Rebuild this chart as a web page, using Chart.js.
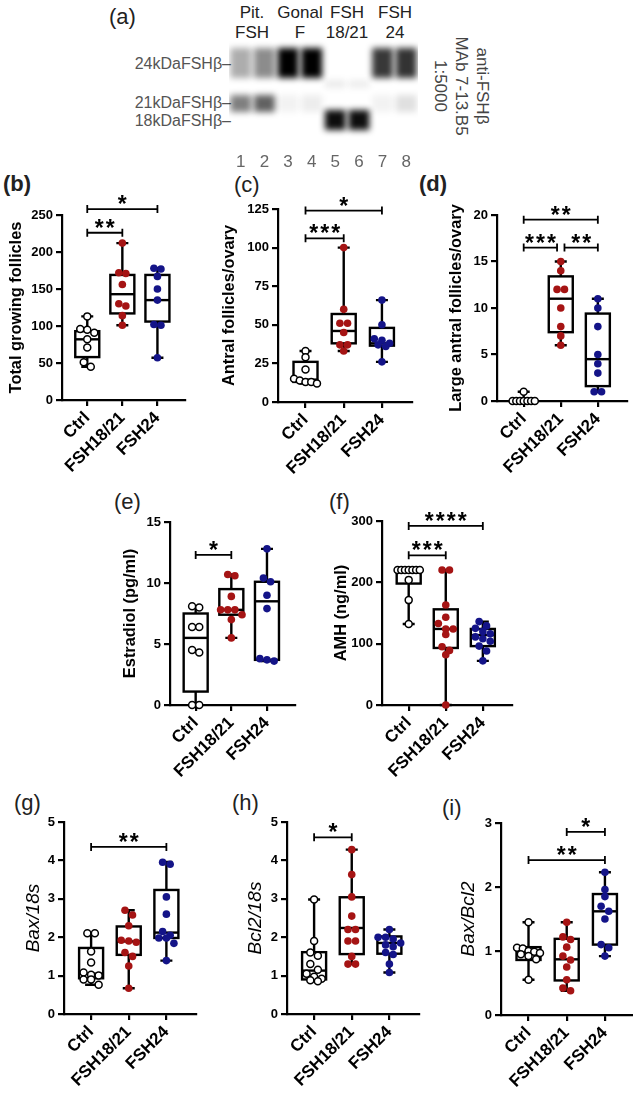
<!DOCTYPE html>
<html lang="en">
<head>
<meta charset="utf-8">
<title>FSH glycoforms and ovarian follicles</title>
<script src="https://cdn.jsdelivr.net/npm/chart.js"></script>
<style>
    body { margin: 0; background: #fff; font-family: "Liberation Sans", Arial, sans-serif; }
    #page { position: relative; width: 633px; height: 1101px; overflow: hidden; }
    #page canvas { position: absolute; }
    .lbl { position: absolute; white-space: nowrap; line-height: 1; }
    .panel { position: absolute; font-size: 22px; color: #222; line-height: 1; }
    .grey { color: #555; font-size: 16px; }
    .lane { color: #222; font-size: 17px; text-align: center; transform: translateX(-50%); }
</style>
</head>
<body>
<div id="page">
    <div class="panel" style="left:109px;top:6px">(a)</div>
    <div class="lbl lane" style="left:252px;top:4px">Pit.</div>
    <div class="lbl lane" style="left:252px;top:24px">FSH</div>
    <div class="lbl lane" style="left:300px;top:4px">Gonal</div>
    <div class="lbl lane" style="left:300px;top:24px">F</div>
    <div class="lbl lane" style="left:347px;top:4px">FSH</div>
    <div class="lbl lane" style="left:347px;top:24px">18/21</div>
    <div class="lbl lane" style="left:395px;top:4px">FSH</div>
    <div class="lbl lane" style="left:395px;top:24px">24</div>
    <div class="lbl grey" style="right:402px;top:56px">24kDaFSHβ–</div>
    <div class="lbl grey" style="right:402px;top:95px">21kDaFSHβ–</div>
    <div class="lbl grey" style="right:402px;top:113px">18kDaFSHβ–</div>
    <div class="lbl grey" style="left:461px;top:86px;text-align:center;line-height:21px;font-size:17px;color:#444;transform:translate(-50%,-50%) rotate(90deg)">anti-FSHβ<br>MAb 7-13.B5<br>1:5000</div>

    <div class="panel" style="left:3px;top:173px;font-weight:bold">(b)</div>
    <div class="panel" style="left:234px;top:174px">(c)</div>
    <div class="panel" style="left:419px;top:173px;font-weight:bold">(d)</div>
    <div class="panel" style="left:114px;top:491px">(e)</div>
    <div class="panel" style="left:329px;top:491px">(f)</div>
    <div class="panel" style="left:14px;top:792px">(g)</div>
    <div class="panel" style="left:232px;top:792px">(h)</div>
    <div class="panel" style="left:442px;top:797px">(i)</div>
</div>
<script>
// ---- data ----
const groups = ['Ctrl', 'FSH18/21', 'FSH24'];

// western blot (a): band intensity per lane, band span in migration units
const laneNums = ['1', '2', '3', '4', '5', '6', '7', '8'];
const band24 = [0.32, 0.45, 1, 1, 0, 0, 0.78, 0.8];
const band22 = [0, 0, 0, 0, 0.08, 0.07, 0, 0];
const band21 = [0.5, 0.62, 0.05, 0.07, 0, 0, 0.05, 0.12];
const band18 = [0, 0, 0, 0, 0.95, 0.95, 0, 0];
const bandSpans = [[8, 38], [40, 48], [55, 72], [70, 90]];

// (b) total growing follicles
const bTicks = [0, 50, 100, 150, 200, 250];
const bCtrl = [113, 96, 95, 91, 82, 71, 51, 45];
const bF1821 = [212, 172, 171, 156, 130, 127, 114, 101];
const bF24 = [178, 177, 167, 150, 135, 102, 101, 57];
const bBox = [[45, 58, 82, 93, 113], [101, 117, 143, 169, 212], [57, 106, 135, 169, 178]];
const bSig = [[0, 1, 226, '**'], [0, 2, 258, '*']];

// (c) antral follicles/ovary
const cTicks = [0, 25, 50, 75, 100, 125];
const cCtrl = [33, 29, 21, 15, 14, 13, 13, 12];
const cF1821 = [100, 60, 51, 51, 45, 37, 37, 33];
const cF24 = [66, 50, 41, 40, 38, 37, 36, 26];
const cBox = [[12, 13, 14.5, 26, 33], [33, 38, 46, 57, 100], [26, 36.5, 38, 48, 66]];
const cSig = [[0, 1, 106, '***'], [0, 2, 124, '*']];

// (d) large antral follicles/ovary
const dTicks = [0, 5, 10, 15, 20];
const dCtrl = [1, 0, 0, 0, 0, 0, 0, 0];
const dF1821 = [15, 14, 12, 12, 10, 8, 7, 6];
const dF24 = [11, 10, 8, 5, 4, 3, 1, 1];
const dBox = [[0, 0, 0, 0, 1], [6, 7.4, 11, 13.4, 15], [1, 1.6, 4.5, 9.4, 11]];
const dSig = [[0, 2, 19.5, '**'], [0, 0.9, 16.5, '***'], [1.1, 2, 16.5, '**']];

// (e) estradiol
const eTicks = [0, 5, 10, 15];
const eCtrl = [8.1, 8.0, 6.4, 6.4, 4.5, 4.3, 0, 0];
const eF1821 = [10.7, 10.6, 8.9, 7.8, 7.8, 7.8, 7.4, 7.0, 5.5];
const eF24 = [12.8, 10.4, 10.1, 9.0, 7.9, 3.8, 3.7, 3.6];
const eBox = [[0, 1.1, 5.5, 7.5, 8.1], [5.5, 7.4, 7.8, 9.5, 10.7], [3.6, 3.7, 8.5, 10.1, 12.8]];
const eSig = [[0, 1, 12.3, '*']];

// (f) AMH
const fTicks = [0, 100, 200, 300];
const fCtrl = [220, 220, 220, 220, 220, 220, 220, 204, 171, 132];
const fF1821 = [220, 220, 163, 143, 133, 124, 124, 115, 95, 89, 82, 0];
const fF24 = [136, 129, 125, 120, 116, 111, 108, 104, 96, 88, 72];
const fBox = [[132, 198, 220, 220, 220], [0, 93, 124, 156, 220], [72, 96, 114, 124, 136]];
const fSig = [[0, 2, 292, '****'], [0, 1, 244, '***']];

// (g) Bax/18s
const gTicks = [0, 1, 2, 3, 4, 5];
const gCtrl = [2.1, 2.1, 1.63, 1.34, 1.08, 1.02, 1.0, 0.9, 0.9, 0.76];
const gF1821 = [2.7, 2.58, 2.3, 1.92, 1.9, 1.87, 1.6, 1.5, 1.25, 0.67];
const gF24 = [3.95, 3.9, 3.05, 2.6, 2.15, 2.05, 1.98, 1.98, 1.84, 1.39];
const gBox = [[0.76, 0.93, 1.05, 1.72, 2.1], [0.67, 1.54, 1.89, 2.28, 2.7], [1.39, 1.98, 2.12, 3.23, 3.96]];
const gSig = [[0, 2, 4.35, '**']];

// (h) Bcl2/18s
const hTicks = [0, 1, 2, 3, 4, 5];
const hCtrl = [2.98, 1.9, 1.6, 1.52, 1.3, 1.15, 1.05, 0.97, 0.92, 0.88, 0.85];
const hF1821 = [4.28, 3.63, 3.05, 2.55, 2.2, 2.2, 1.9, 1.9, 1.5, 1.3, 1.3];
const hF24 = [2.2, 2.0, 2.0, 1.95, 1.85, 1.8, 1.75, 1.6, 1.55, 1.3, 1.08];
const hBox = [[0.85, 0.9, 1.13, 1.61, 2.98], [1.3, 1.56, 2.24, 3.04, 4.28], [1.08, 1.57, 1.85, 2.02, 2.2]];
const hSig = [[0, 1, 4.6, '*']];

// (i) Bax/Bcl2
const iTicks = [0, 1, 2, 3];
const iCtrl = [1.45, 1.05, 1.04, 1.0, 0.99, 0.97, 0.95, 0.92, 0.87, 0.55];
const iF1821 = [1.45, 1.22, 1.18, 1.06, 0.92, 0.86, 0.75, 0.55, 0.42, 0.38];
const iF24 = [2.23, 1.96, 1.85, 1.7, 1.62, 1.5, 1.1, 1.05, 0.92];
const iBox = [[0.55, 0.86, 0.98, 1.06, 1.45], [0.38, 0.54, 0.87, 1.19, 1.45], [0.92, 1.1, 1.62, 1.89, 2.23]];
const iSig = [[1, 2, 2.86, '*'], [0, 2, 2.42, '**']];

// ---- styling / layout ----
const FONT = "'Liberation Sans', Arial, sans-serif";
const groupFill = ['#ffffff', '#a51414', '#141488'];
const groupLine = ['#000000', '#a51414', '#141488'];
const X_MIN = -0.72, X_MAX = 2.8;
const PT = 50, PR = 4, XH = 85;

Chart.defaults.font.family = FONT;
Chart.defaults.color = '#000';

const panels = [
    { axisX: 62, top: 215, bottom: 400, yw: 60, step: 35.5, ticks: bTicks, title: 'Total growing follicles', pts: [bCtrl, bF1821, bF24], box: bBox, sig: bSig },
    { axisX: 278, top: 209, bottom: 402, yw: 63, step: 38.5, ticks: cTicks, title: 'Antral follicles/ovary', pts: [cCtrl, cF1821, cF24], box: cBox, sig: cSig },
    { axisX: 497, top: 215, bottom: 401, yw: 55, step: 37.5, ticks: dTicks, title: 'Large antral follicles/ovary', pts: [dCtrl, dF1821, dF24], box: dBox, sig: dSig },
    { axisX: 170, top: 522, bottom: 705, yw: 54, step: 36, ticks: eTicks, title: 'Estradiol (pg/ml)', pts: [eCtrl, eF1821, eF24], box: eBox, sig: eSig },
    { axisX: 382, top: 521, bottom: 705, yw: 55, step: 37.5, ticks: fTicks, title: 'AMH (ng/ml)', pts: [fCtrl, fF1821, fF24], box: fBox, sig: fSig },
    { axisX: 64, top: 822, bottom: 1014, yw: 47, step: 38, ticks: gTicks, title: 'Bax/18s', italic: true, pts: [gCtrl, gF1821, gF24], box: gBox, sig: gSig },
    { axisX: 287, top: 822, bottom: 1014, yw: 48, step: 38, ticks: hTicks, title: 'Bcl2/18s', italic: true, pts: [hCtrl, hF1821, hF24], box: hBox, sig: hSig },
    { axisX: 501, top: 823, bottom: 1015, yw: 49, step: 38.5, ticks: iTicks, title: 'Bax/Bcl2', italic: true, pts: [iCtrl, iF1821, iF24], box: iBox, sig: iSig }
];

const page = document.getElementById('page');

// lay the dots of one group out in rows, like a scatter dot plot
function spread(vals, g, pyu) {
    const rows = [];
    vals.slice().sort((a, b) => b - a).forEach(v => {
        const row = rows[rows.length - 1];
        if (row && (row[0] - v) * pyu < 6) row.push(v);
        else rows.push([v]);
    });
    const out = [];
    rows.forEach(row => {
        const step = Math.min(0.2, 0.6 / Math.max(row.length - 1, 1));
        row.forEach((v, i) => out.push({ x: g + (i - (row.length - 1) / 2) * step, y: v }));
    });
    return out;
}

function boxPlugin(p) {
    return {
        id: 'boxes',
        beforeDatasetsDraw(chart) {
            const { ctx, scales: { x, y } } = chart;
            ctx.save();
            ctx.strokeStyle = '#000';
            ctx.lineWidth = 2.4;
            p.box.forEach((b, g) => {
                const cx = x.getPixelForValue(g);
                const [mn, q1, md, q3, mx] = b.map(v => y.getPixelForValue(v));
                ctx.beginPath();
                ctx.moveTo(cx, mx); ctx.lineTo(cx, q3);
                ctx.moveTo(cx, q1); ctx.lineTo(cx, mn);
                ctx.moveTo(cx - 6, mx); ctx.lineTo(cx + 6, mx);
                ctx.moveTo(cx - 6, mn); ctx.lineTo(cx + 6, mn);
                ctx.stroke();
                ctx.strokeRect(cx - 12, q3, 24, q1 - q3);
                ctx.beginPath();
                ctx.moveTo(cx - 12, md); ctx.lineTo(cx + 12, md);
                ctx.stroke();
            });
            ctx.restore();
        },
        afterDatasetsDraw(chart) {
            const { ctx, scales: { x, y } } = chart;
            ctx.save();
            ctx.strokeStyle = '#000';
            ctx.fillStyle = '#000';
            ctx.lineWidth = 1.8;
            ctx.font = 'bold 23px ' + FONT;
            ctx.textAlign = 'center';
            ctx.textBaseline = 'alphabetic';
            p.sig.forEach(([a, b, v, stars]) => {
                const x1 = x.getPixelForValue(a), x2 = x.getPixelForValue(b), yy = y.getPixelForValue(v);
                ctx.beginPath();
                ctx.moveTo(x1, yy); ctx.lineTo(x2, yy);
                ctx.moveTo(x1, yy - 4); ctx.lineTo(x1, yy + 4);
                ctx.moveTo(x2, yy - 4); ctx.lineTo(x2, yy + 4);
                ctx.stroke();
                const mid = (x1 + x2) / 2;
                for (let i = 0; i < stars.length; i++) {
                    ctx.fillText('*', mid + (i - (stars.length - 1) / 2) * 11, yy + 3);
                }
            });
            ctx.restore();
        }
    };
}

function axisLine() {
    return {
        grid: { display: true, drawOnChartArea: false, drawTicks: true, tickLength: 6, color: '#000', lineWidth: 2.2 },
        border: { display: true, color: '#000', width: 2.2 }
    };
}

function makePanel(p) {
    const h = p.bottom - p.top;
    const pw = (X_MAX - X_MIN) * p.step;
    const cv = document.createElement('canvas');
    cv.width = Math.round(p.yw + pw + PR);
    cv.height = PT + h + XH;
    cv.style.left = (p.axisX - p.yw) + 'px';
    cv.style.top = (p.top - PT) + 'px';
    page.appendChild(cv);

    const yMax = p.ticks[p.ticks.length - 1];
    const pyu = h / yMax;
    const datasets = p.pts.map((vals, g) => ({
        data: spread(vals, g, pyu),
        pointRadius: g ? 3.8 : 3.5,
        backgroundColor: groupFill[g],
        borderColor: groupLine[g],
        borderWidth: g ? 0 : 1.5,
        clip: false
    }));

    new Chart(cv, {
        type: 'scatter',
        data: { datasets: datasets },
        options: {
            responsive: false,
            animation: false,
            devicePixelRatio: 1,
            events: [],
            layout: { padding: { top: PT, right: cv.width - p.yw - pw, left: 0, bottom: 0 } },
            plugins: { legend: { display: false }, tooltip: { enabled: false } },
            scales: {
                x: Object.assign({
                    type: 'linear', min: X_MIN, max: X_MAX,
                    afterBuildTicks: s => { s.ticks = groups.map((_, i) => ({ value: i })); },
                    afterFit: s => { s.height = XH; },
                    ticks: {
                        callback: v => groups[v], autoSkip: false, maxRotation: 45, minRotation: 45,
                        color: '#000', padding: 2, font: { size: 17, weight: 'bold' }
                    }
                }, axisLine()),
                y: Object.assign({
                    type: 'linear', min: 0, max: yMax,
                    afterBuildTicks: s => { s.ticks = p.ticks.map(v => ({ value: v })); },
                    afterFit: s => { s.width = p.yw; },
                    ticks: { color: '#000', padding: 3, font: { size: 13, weight: 'bold' } },
                    title: {
                        display: true, text: p.title, color: '#000', padding: { top: 5, bottom: 0 },
                        font: p.italic ? { size: 19, style: 'italic', weight: 'normal' } : { size: 16.4, weight: 'bold' }
                    }
                }, axisLine())
            }
        },
        plugins: [boxPlugin(p)]
    });
}

function makeBlot() {
    const cv = document.createElement('canvas');
    cv.width = 189;
    cv.height = 132;
    cv.style.left = '229px';
    cv.style.top = '40px';
    page.appendChild(cv);

    const bands = [band24, band22, band21, band18];
    const datasets = bands.map((b, k) => ({
        data: b.map(v => v > 0 ? bandSpans[k] : null),
        backgroundColor: b.map(v => 'rgba(0,0,0,' + v + ')'),
        borderWidth: 0,
        grouped: false,
        categoryPercentage: 0.92,
        barPercentage: 0.96,
        clip: false
    }));

    const blur = {
        id: 'blur',
        beforeDatasetDraw(chart) { chart.ctx.save(); chart.ctx.filter = 'blur(3px)'; },
        afterDatasetDraw(chart) { chart.ctx.restore(); }
    };

    new Chart(cv, {
        type: 'bar',
        data: { labels: laneNums, datasets: datasets },
        options: {
            responsive: false,
            animation: false,
            devicePixelRatio: 1,
            events: [],
            layout: { padding: 0 },
            plugins: { legend: { display: false }, tooltip: { enabled: false } },
            scales: {
                x: {
                    grid: { display: false }, border: { display: false },
                    afterFit: s => { s.height = 32; },
                    ticks: { color: '#666', padding: 4, font: { size: 17 } }
                },
                y: { display: false, reverse: true, min: 0, max: 100 }
            }
        },
        plugins: [blur]
    });
}

makeBlot();
panels.forEach(makePanel);
</script>
</body>
</html>
